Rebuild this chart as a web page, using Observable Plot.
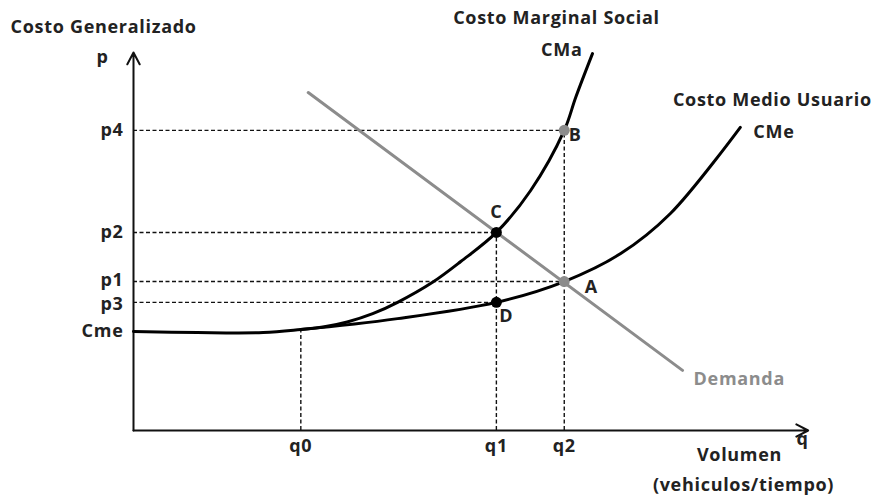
<!DOCTYPE html>
<html>
<head>
<meta charset="utf-8">
<script src="https://cdn.jsdelivr.net/npm/d3@7"></script>
<script src="https://cdn.jsdelivr.net/npm/@observablehq/plot@0.6"></script>
<style>
  html, body { margin: 0; padding: 0; background: #fff; }
  svg { display: block; }
  svg text { letter-spacing: 0.7px; }
</style>
</head>
<body>
<div id="chart"></div>
<script>
// ---- quantity (x) and generalized cost (y) levels ----
const qNames = ["q0", "q1", "q2"];
const qValues = [24.9, 54.0, 64.1];
const pNames = ["p4", "p2", "p1", "p3", "Cme"];
const pValues = [79.4, 52.4, 39.4, 33.9, 26.2];

// ---- Costo Medio Usuario (CMe) curve ----
const cmeX = [0, 9.5, 19.3, 24.9, 39.3, 54.0, 64.1, 72.5, 79.9, 90.3];
const cmeY = [26.2, 25.9, 25.9, 26.7, 29.6, 33.9, 39.4, 46.8, 57.4, 80.2];

// ---- Costo Marginal Social (CMa) curve ----
const cmaX = [24.9, 28.6, 31.8, 35.6, 39.3, 44.5, 48.7, 54.0, 59.1, 64.1, 65.8, 68.3];
const cmaY = [26.7, 27.5, 28.7, 30.9, 33.9, 39.2, 44.7, 52.4, 63.5, 79.4, 88.1, 99.7];

// ---- Demanda (straight line) ----
const demX = [26.0, 81.7];
const demY = [89.4, 15.9];

// ---- labelled points ----
const ptNames = ["C", "D", "A", "B"];
const ptX = [54.0, 54.0, 64.1, 64.1];
const ptY = [52.4, 33.9, 39.4, 79.4];
const ptFill = ["#000", "#000", "#8c8c8c", "#8c8c8c"];

const q = Object.fromEntries(qNames.map((n, i) => [n, qValues[i]]));
const p = Object.fromEntries(pNames.map((n, i) => [n, pValues[i]]));

const cme = cmeX.map((x, i) => ({x, y: cmeY[i]}));
const cma = cmaX.map((x, i) => ({x, y: cmaY[i]}));
const dem = demX.map((x, i) => ({x, y: demY[i]}));
const pts = ptNames.map((name, i) => ({name, x: ptX[i], y: ptY[i], fill: ptFill[i]}));

// dashed guide lines
const hGuides = [
  {y: p.p4, x2: q.q2},
  {y: p.p2, x2: q.q1},
  {y: p.p1, x2: q.q2},
  {y: p.p3, x2: q.q1}
];
const vGuides = [
  {x: q.q0, y2: cmeY[3]},
  {x: q.q1, y2: p.p2},
  {x: q.q2, y2: p.p4}
];

const qTicks = qNames.map((n, i) => ({label: n, x: qValues[i]}));
// tiny vertical nudges keep the tightly spaced p1 / p3 labels apart
const pNudge = {p4: 0, p2: 0, p1: -1, p3: 1.5, Cme: 0};
const pTicks = pNames.map((n, i) => ({label: n, y: pValues[i], nudge: pNudge[n]}));

const cmaEnd = cma[cma.length - 1];
const cmeEnd = cme[cme.length - 1];
const demEnd = dem[dem.length - 1];
const byName = Object.fromEntries(pts.map(d => [d.name, d]));

const font = "'Open Sans', Lato, sans-serif";
const fs = 18;
const ink = "#222";

const chart = Plot.plot({
  width: 881,
  height: 498,
  marginLeft: 133,
  marginRight: 76,
  marginTop: 52,
  marginBottom: 68,
  x: {domain: [0, 100], axis: null},
  y: {domain: [0, 100], axis: null},
  style: {fontFamily: font, background: "#fff", overflow: "visible"},
  marks: [
    // guides
    Plot.ruleY(hGuides, {y: "y", x1: 0, x2: "x2", stroke: "#111", strokeWidth: 1.4, strokeDasharray: "4,2.5"}),
    Plot.ruleX(vGuides, {x: "x", y1: 0, y2: "y2", stroke: "#111", strokeWidth: 1.4, strokeDasharray: "4,2.5"}),
    // axes
    Plot.arrow([{x1: 0, y1: 0, x2: 100.4, y2: 0}], {x1: "x1", y1: "y1", x2: "x2", y2: "y2", stroke: "#111", strokeWidth: 2, headLength: 10, headAngle: 55}),
    Plot.arrow([{x1: 0, y1: 0, x2: 0, y2: 100}], {x1: "x1", y1: "y1", x2: "x2", y2: "y2", stroke: "#111", strokeWidth: 2, headLength: 10, headAngle: 55}),
    // curves
    Plot.line(dem, {x: "x", y: "y", stroke: "#8c8c8c", strokeWidth: 3}),
    Plot.line(cme, {x: "x", y: "y", curve: "catmull-rom", stroke: "#000", strokeWidth: 3}),
    Plot.line(cma, {x: "x", y: "y", curve: "catmull-rom", stroke: "#000", strokeWidth: 3}),
    // points
    Plot.dot(pts, {x: "x", y: "y", r: 5.5, fill: d => d.fill, stroke: "none"}),
    // tick labels
    ...pTicks.map(t => Plot.text([t], {x: 0, y: "y", text: "label", dx: -10, dy: t.nudge, textAnchor: "end", fontSize: fs, fontWeight: "bold", fill: ink})),
    Plot.text(qTicks, {x: "x", y: 0, text: "label", dy: 16, fontSize: fs, fontWeight: "bold", fill: ink}),
    // axis names
    Plot.text(["p"], {x: 0, y: 100, text: d => d, dx: -37, dy: 5, textAnchor: "start", fontSize: fs, fontWeight: "bold", fill: ink}),
    Plot.text(["Costo Generalizado"], {x: 0, y: 100, text: d => d, dx: -123, dy: -25, textAnchor: "start", fontSize: fs, fontWeight: "bold", fill: ink}),
    Plot.text(["q"], {x: 100, y: 0, text: d => d, dx: -3, dy: 9, fontSize: fs, fontWeight: "bold", fill: ink}),
    Plot.text(["Volumen"], {x: 100, y: 0, text: d => d, dx: -66, dy: 25, fontSize: fs, fontWeight: "bold", fill: ink}),
    Plot.text(["(vehiculos/tiempo)"], {x: 100, y: 0, text: d => d, dx: -62, dy: 55, fontSize: fs, fontWeight: "bold", fill: ink}),
    // curve names
    Plot.text(["Costo Marginal Social"], {x: cmaEnd.x, y: cmaEnd.y, text: d => d, dx: -36, dy: -35, fontSize: fs, fontWeight: "bold", fill: ink}),
    Plot.text(["CMa"], {x: cmaEnd.x, y: cmaEnd.y, text: d => d, dx: -10, dy: -3, textAnchor: "end", fontSize: fs, fontWeight: "bold", fill: ink}),
    Plot.text(["Costo Medio Usuario"], {x: cmeEnd.x, y: cmeEnd.y, text: d => d, dx: 32, dy: -27, fontSize: fs, fontWeight: "bold", fill: ink}),
    Plot.text(["CMe"], {x: cmeEnd.x, y: cmeEnd.y, text: d => d, dx: 13, dy: 5, textAnchor: "start", fontSize: fs, fontWeight: "bold", fill: ink}),
    Plot.text(["Demanda"], {x: demEnd.x, y: demEnd.y, text: d => d, dx: 11, dy: 9, textAnchor: "start", fontSize: fs, fontWeight: "bold", fill: "#8c8c8c"}),
    // point letters
    Plot.text([byName.C], {x: "x", y: "y", text: "name", dy: -20, fontSize: fs, fontWeight: "bold", fill: ink}),
    Plot.text([byName.D], {x: "x", y: "y", text: "name", dx: 10, dy: 14, fontSize: fs, fontWeight: "bold", fill: ink}),
    Plot.text([byName.A], {x: "x", y: "y", text: "name", dx: 27, dy: 6, fontSize: fs, fontWeight: "bold", fill: ink}),
    Plot.text([byName.B], {x: "x", y: "y", text: "name", dx: 11, dy: 5, fontSize: fs, fontWeight: "bold", fill: ink})
  ]
});
document.getElementById("chart").appendChild(chart);
</script>
</body>
</html>
